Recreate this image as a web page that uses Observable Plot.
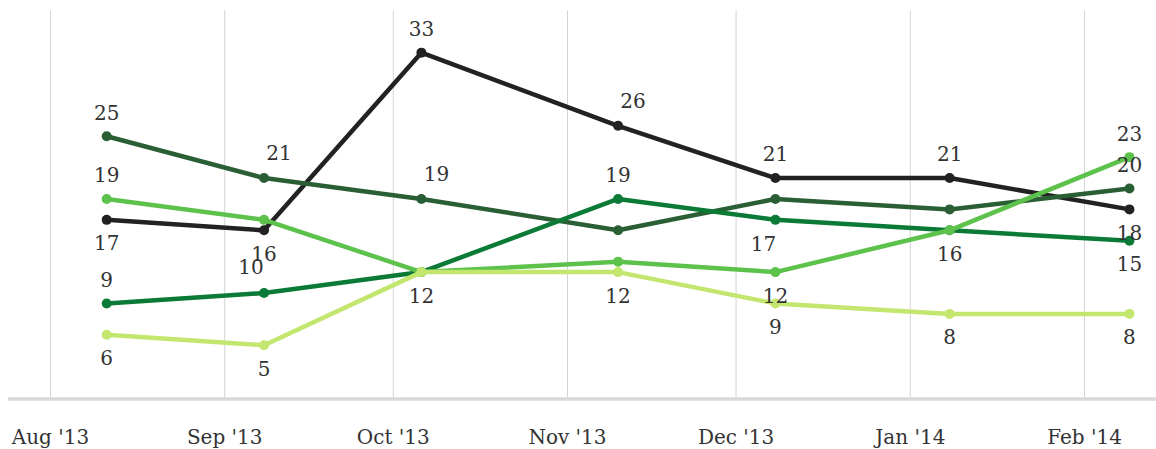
<!DOCTYPE html>
<html>
<head>
<meta charset="utf-8">
<script src="https://cdn.jsdelivr.net/npm/d3@7"></script>
<script src="https://cdn.jsdelivr.net/npm/@observablehq/plot@0.6"></script>
<style>
  html, body { margin: 0; padding: 0; background: #fff; }
  #chart svg { display: block; }
</style>
</head>
<body>
<div id="chart"></div>
<script>
// ---- data ----
const dates = ["2013-08-11", "2013-09-08", "2013-10-06", "2013-11-10", "2013-12-08", "2014-01-08", "2014-02-09"];
const monthTicks = ["2013-08-01", "2013-09-01", "2013-10-01", "2013-11-01", "2013-12-01", "2014-01-01", "2014-02-01"];

const seriesNames = ["s1", "s2", "s3", "s4", "s5"];
const s1 = [17, 16, 33, 26, 21, 21, 18];   // black
const s2 = [25, 21, 19, 16, 19, 18, 20];   // dark green
const s3 = [9, 10, 12, 19, 17, 16, 15];    // medium green
const s4 = [19, 17, 12, 13, 12, 16, 23];   // light green
const s5 = [6, 5, 12, 12, 9, 8, 8];        // pale green
const seriesValues = [s1, s2, s3, s4, s5];

// which value labels are shown and where (a = above, b = below, r = right, l = left)
const labelPlacement = [
  ["b", "b", "a", "ar", "a", "a", "b"],
  ["a", "ar", "ar", "", "", "", "a"],
  ["a", "al", "", "a", "bl", "", "b"],
  ["a", "", "", "", "b", "b", "a"],
  ["b", "b", "b", "b", "b", "b", "b"]
];

const colors = ["#222222", "#2a5f35", "#0b7a36", "#5cc24b", "#c3e66e"];

// ---- build table ----
const parse = d3.utcParse("%Y-%m-%d");
const rows = [];
seriesNames.forEach((s, i) => {
  seriesValues[i].forEach((v, j) => {
    rows.push({series: s, date: parse(dates[j]), value: v, place: labelPlacement[i][j]});
  });
});
const ticks = monthTicks.map(parse);

const fontFamily = "'DejaVu Serif', serif";
const labelOffsets = {
  a: {dx: 0, dy: -23}, ar: {dx: 15, dy: -24}, al: {dx: -13, dy: -25},
  b: {dx: 0, dy: 24}, bl: {dx: -12, dy: 25}, br: {dx: 12, dy: 25}
};

const labelMarks = Object.entries(labelOffsets).map(([k, o]) =>
  Plot.text(rows.filter(r => r.place === k), {
    x: "date", y: "value", text: d => String(d.value),
    dx: o.dx, dy: o.dy, lineAnchor: "middle", textAnchor: "middle",
    fill: "#333", fontSize: 20, fontFamily
  })
);

const chart = Plot.plot({
  width: 1156,
  height: 449,
  marginLeft: 8,
  marginRight: 0,
  marginTop: 0,
  marginBottom: 52,
  style: {fontFamily, background: "#fff"},
  x: {type: "utc", domain: [ticks[0], ticks[ticks.length - 1]], range: [50, 1084]},
  y: {domain: [0, 37], range: [397, 397 - 37 * 10.45], axis: null},
  color: {domain: seriesNames, range: colors},
  marks: [
    Plot.ruleX(ticks, {x: d => d, y1: 0, y2: 37, stroke: "#d4d4d4", strokeWidth: 1}),
    Plot.ruleY([0], {stroke: "#d9d9d9", strokeWidth: 3.5, dy: 1.5}),
    Plot.axisX(ticks, {
      tickFormat: d3.utcFormat("%b '%y"), tickSize: 0, tickPadding: 32,
      fontSize: 20, fill: "#333", fontFamily, label: null
    }),
    ...seriesNames.map((s, i) =>
      Plot.line(rows.filter(r => r.series === s), {
        x: "date", y: "value", stroke: colors[i], strokeWidth: 4.5, curve: "linear"
      })
    ).flatMap((l, i) => [l, Plot.dot(rows.filter(r => r.series === seriesNames[i]), {
      x: "date", y: "value", r: 5, fill: colors[i], stroke: "none"
    })]),
    ...labelMarks
  ]
});

document.getElementById("chart").appendChild(chart);
</script>
</body>
</html>
